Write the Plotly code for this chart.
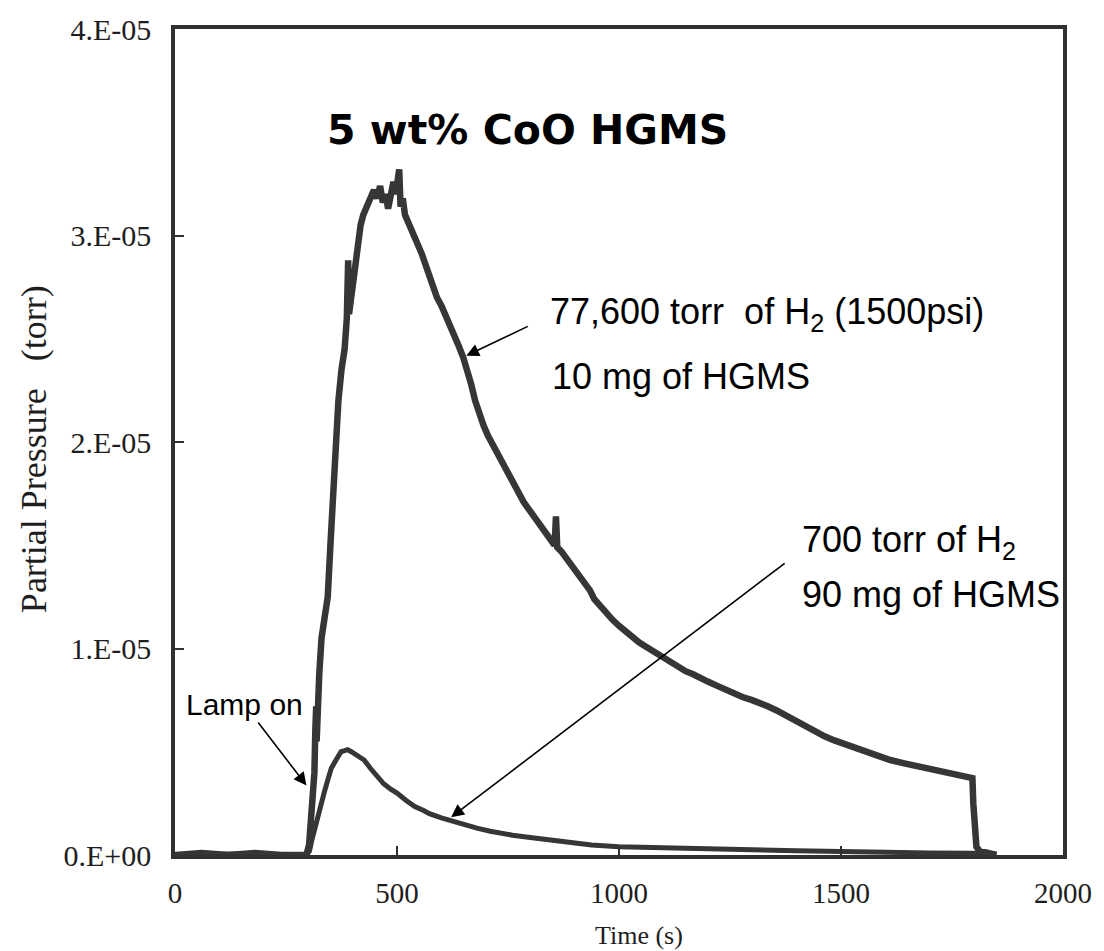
import plotly.graph_objects as go

# ---------------- data (pressure in units of 1e-5 torr) ----------------
t_high = [0, 60, 120, 180, 240, 296, 302, 306, 310, 314, 316, 318, 319, 321, 325, 330, 336, 344,
          350, 356, 362, 368, 375, 382, 387, 390, 392, 398, 404, 410, 418, 424, 430, 436, 442, 448,
          455, 462, 468, 474, 480, 486, 492, 497, 502, 505, 508, 513, 518, 525, 532, 540, 548, 556,
          564, 572, 580, 590, 600, 611, 620, 630, 640, 649, 658, 667, 676, 685, 695, 705, 715, 725,
          735, 745, 755, 765, 775, 785, 795, 805, 815, 825, 835, 845, 855, 858, 861, 870, 880, 890,
          900, 912, 925, 935, 944, 955, 970, 985, 1000, 1015, 1030, 1045, 1060, 1075, 1093, 1110,
          1130, 1150, 1167, 1185, 1200, 1220, 1240, 1260, 1278, 1300, 1315, 1335, 1355, 1380, 1400,
          1420, 1440, 1463, 1485, 1505, 1530, 1555, 1580, 1611, 1640, 1670, 1700, 1730, 1760, 1789,
          1796, 1798, 1801, 1805, 1812, 1830, 1850]
p_high = [0.00, 0.01, 0.00, 0.01, 0.00, 0.00, 0.05, 0.18, 0.30, 0.40, 0.60, 0.72, 0.55, 0.78, 0.88,
          1.05, 1.15, 1.25, 1.50, 1.75, 2.00, 2.20, 2.35, 2.45, 2.60, 2.88, 2.62, 2.72, 2.83, 2.90,
          3.05, 3.10, 3.13, 3.17, 3.20, 3.22, 3.18, 3.24, 3.16, 3.20, 3.13, 3.22, 3.26, 3.20, 3.28,
          3.32, 3.14, 3.18, 3.10, 3.06, 3.03, 2.99, 2.95, 2.91, 2.86, 2.79, 2.75, 2.70, 2.66, 2.61,
          2.56, 2.51, 2.46, 2.41, 2.35, 2.28, 2.20, 2.13, 2.08, 2.03, 1.99, 1.95, 1.90, 1.86, 1.82,
          1.78, 1.74, 1.71, 1.68, 1.65, 1.62, 1.59, 1.56, 1.53, 1.50, 1.64, 1.49, 1.47, 1.44, 1.41,
          1.38, 1.35, 1.31, 1.28, 1.24, 1.21, 1.18, 1.14, 1.11, 1.08, 1.05, 1.03, 1.01, 0.99, 0.97,
          0.94, 0.92, 0.89, 0.875, 0.86, 0.84, 0.82, 0.80, 0.78, 0.765, 0.75, 0.74, 0.72, 0.70, 0.67,
          0.645, 0.62, 0.60, 0.575, 0.555, 0.54, 0.52, 0.50, 0.48, 0.46, 0.445, 0.43, 0.415, 0.40,
          0.39, 0.378, 0.372, 0.25, 0.10, 0.04, 0.02, 0.01, 0.00]

t_low = [0, 150, 296, 303, 308, 315, 322, 330, 337, 345, 352, 360, 367, 374, 382, 389, 397, 405,
         415, 426, 440, 455, 470, 485, 500, 520, 540, 560, 573, 600, 622, 649, 680, 710, 740, 760,
         800, 850, 900, 938, 1000, 1100, 1167, 1300, 1400, 1500, 1600, 1700, 1800, 1850]
p_low = [0.0, 0.005, 0.0, 0.02, 0.07, 0.13, 0.20, 0.26, 0.31, 0.37, 0.42, 0.45, 0.48, 0.50, 0.505,
         0.51, 0.50, 0.49, 0.475, 0.46, 0.42, 0.38, 0.345, 0.32, 0.30, 0.265, 0.235, 0.215, 0.20,
         0.18, 0.165, 0.145, 0.13, 0.115, 0.10, 0.096, 0.085, 0.07, 0.057, 0.048, 0.04, 0.033, 0.03,
         0.025, 0.02, 0.015, 0.012, 0.01, 0.008, 0.005]

x_ticks = [0, 500, 1000, 1500, 2000]
x_tick_labels = ["0", "500", "1000", "1500", "2000"]
y_ticks = [0, 1, 2, 3, 4]
y_tick_labels = ["0.E+00", "1.E-05", "2.E-05", "3.E-05", "4.E-05"]

# ---------------- figure ----------------
LINE = "#363636"
AX = "#303030"
serif = "Liberation Serif, Times New Roman, serif"
sans = "Liberation Sans, Arial, sans-serif"

fig = go.Figure()
fig.add_trace(go.Scatter(x=t_high, y=p_high, mode="lines",
                         line=dict(color=LINE, width=6.5), showlegend=False, hoverinfo="skip"))
fig.add_trace(go.Scatter(x=t_low, y=p_low, mode="lines",
                         line=dict(color=LINE, width=5), showlegend=False, hoverinfo="skip"))

fig.update_layout(
    width=1104, height=951,
    margin=dict(l=175, r=29, t=22, b=96),
    paper_bgcolor="white", plot_bgcolor="white",
    showlegend=False,
)
fig.update_xaxes(range=[0, 2000], tickvals=x_ticks, ticktext=x_tick_labels,
                 showgrid=False, zeroline=False, showline=True, linecolor=AX, linewidth=3.5,
                 mirror=True, ticks="inside", ticklen=9, tickwidth=2, tickcolor=AX,
                 tickfont=dict(family=serif, size=29, color="#1e1e1e"), ticklabelstandoff=9,
                 ticklabeloverflow="allow")
fig.update_yaxes(range=[0, 4], tickvals=y_ticks, ticktext=y_tick_labels,
                 showgrid=False, zeroline=False, showline=True, linecolor=AX, linewidth=3.5,
                 mirror=True, ticks="inside", ticklen=9, tickwidth=2, tickcolor=AX,
                 tickfont=dict(family=serif, size=30, color="#1e1e1e"), ticklabelstandoff=14,
                 ticklabeloverflow="allow")

ann = []
# title inside the plot
ann.append(dict(x=793, y=3.51, xref="x", yref="y", text="<b>5 wt% CoO HGMS</b>", showarrow=False,
                font=dict(family="DejaVu Sans", size=41, color="black"), xanchor="center", yanchor="middle"))
# series labels
ann.append(dict(x=840, y=2.62, xref="x", yref="y", text="77,600 torr&nbsp; of H<sub>2</sub> (1500psi)",
                showarrow=False, font=dict(family=sans, size=36, color="black"), xanchor="left", yanchor="middle"))
ann.append(dict(x=844, y=2.317, xref="x", yref="y", text="10 mg of HGMS",
                showarrow=False, font=dict(family=sans, size=36, color="black"), xanchor="left", yanchor="middle"))
ann.append(dict(x=1407, y=1.514, xref="x", yref="y", text="700 torr of H<sub>2</sub>",
                showarrow=False, font=dict(family=sans, size=36, color="black"), xanchor="left", yanchor="middle"))
ann.append(dict(x=1407, y=1.26, xref="x", yref="y", text="90 mg of HGMS",
                showarrow=False, font=dict(family=sans, size=36, color="black"), xanchor="left", yanchor="middle"))
# "Lamp on" with its arrow
ann.append(dict(x=296, y=0.337, xref="x", yref="y", ax=-62, ay=-81, text="Lamp on", showarrow=True,
                arrowhead=2, arrowsize=1.6, arrowwidth=1.6, arrowcolor="black", standoff=0, startstandoff=0,
                font=dict(family=sans, size=30, color="black")))
# arrows
ann.append(dict(x=656, y=2.418, xref="x", yref="y", ax=63, ay=-30, text="", showarrow=True,
                arrowhead=2, arrowsize=1.6, arrowwidth=1.6, arrowcolor="black"))
ann.append(dict(x=622, y=0.183, xref="x", yref="y", ax=335, ay=-255, text="", showarrow=True,
                arrowhead=2, arrowsize=1.6, arrowwidth=1.6, arrowcolor="black"))
# axis titles
ann.append(dict(x=-0.158, y=0.491, xref="paper", yref="paper", text="Partial Pressure&nbsp;&nbsp; (torr)",
                textangle=-90, showarrow=False, font=dict(family=serif, size=36, color="#1e1e1e"),
                xanchor="center", yanchor="middle"))
ann.append(dict(x=0.522, y=-0.0972, xref="paper", yref="paper", text="Time (s)",
                showarrow=False, font=dict(family=serif, size=26, color="#1e1e1e"),
                xanchor="center", yanchor="middle"))
fig.update_layout(annotations=ann)

fig.write_html("out.html")
